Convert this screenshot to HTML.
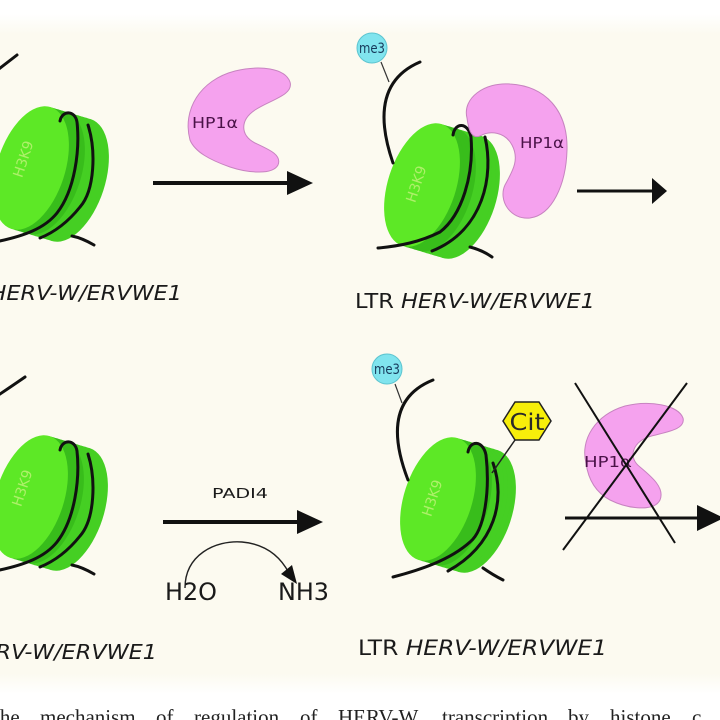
<!DOCTYPE html>
<html>
<head>
<meta charset="utf-8">
<style>
  html, body { margin:0; padding:0; background:#ffffff; }
  body { width:720px; height:720px; overflow:hidden; }
  svg { display:block; }
  .lbl { font-family: "DejaVu Sans", "Liberation Sans", sans-serif; fill:#1a1a1a; }
  .it { font-style: italic; }
  .dna { fill:none; stroke:#111; stroke-width:3; stroke-linecap:round; }
  .hp { fill:#f5a2ee; stroke:#c783c0; stroke-width:1; }
  .hpt { font-family: "DejaVu Sans", "Liberation Sans", sans-serif; font-size:15px; fill:#4a1248; }
  .k9 { font-family: "DejaVu Sans", "Liberation Sans", sans-serif; font-size:14px; fill:#aef06a; }
  .me { fill:#80e4ee; stroke:#5cc4cf; stroke-width:1; }
  .met { font-family: "DejaVu Sans", "Liberation Sans", sans-serif; font-size:14px; fill:#16385a; }
  .cap { font-family: "Liberation Serif", serif; font-size:21px; fill:#222; }
  .bk { fill:#45cf23; }
  .sd { fill:#38bd1b; }
  .fr { fill:#5de826; }
</style>
</head>
<body>
<svg width="720" height="720" viewBox="0 0 720 720" xmlns="http://www.w3.org/2000/svg">
  <defs>
    <linearGradient id="bg" x1="0" y1="0" x2="0" y2="1">
      <stop offset="0" stop-color="#ffffff"/>
      <stop offset="0.03" stop-color="#fcfaf0"/>
      <stop offset="0.97" stop-color="#fcfaf0"/>
      <stop offset="1" stop-color="#ffffff"/>
    </linearGradient>
  </defs>
  <rect x="0" y="0" width="720" height="720" fill="#ffffff"/>
  <rect x="0" y="14" width="720" height="680" fill="url(#bg)"/>

  <!-- ============ Nucleosome TL ============ -->
  <g transform="translate(31,168)">
    <ellipse class="bk" cx="40" cy="12" rx="34" ry="64" transform="rotate(18 40 12)"/>
    <ellipse class="bk" cx="36" cy="10.8" rx="34" ry="64" transform="rotate(18 36 10.8)"/>
    <ellipse class="bk" cx="32" cy="9.6" rx="34" ry="64" transform="rotate(18 32 9.6)"/>
    <ellipse class="bk" cx="28" cy="8.4" rx="34" ry="64" transform="rotate(18 28 8.4)"/>
    <ellipse class="bk" cx="24" cy="7.2" rx="34" ry="64" transform="rotate(18 24 7.2)"/>
    <ellipse class="bk" cx="20" cy="6" rx="34" ry="64" transform="rotate(18 20 6)"/>
    <ellipse class="sd" cx="16" cy="4.8" rx="34" ry="64" transform="rotate(18 16 4.8)"/>
    <ellipse class="sd" cx="12" cy="3.6" rx="34" ry="64" transform="rotate(18 12 3.6)"/>
    <ellipse class="sd" cx="8" cy="2.4" rx="34" ry="64" transform="rotate(18 8 2.4)"/>
    <ellipse class="sd" cx="4" cy="1.2" rx="34" ry="64" transform="rotate(18 4 1.2)"/>
    <ellipse class="fr" cx="0" cy="0" rx="34" ry="64" transform="rotate(18)"/>
    <text class="k9" x="-8" y="-4" text-anchor="middle" transform="rotate(-72 -8 -9)">H3K9</text>
  </g>
  <path class="dna" d="M 17 55 Q 8 62 -5 72"/>
  <path class="dna" d="M 60 121 C 62 110 75 110 77 122 C 80 150 75 190 57 213 C 45 228 25 236 -5 242"/>
  <path class="dna" d="M 88 125 C 96 150 95 190 80 207 C 68 222 55 232 40 238"/>
  <path class="dna" d="M 72 236 Q 82 238 94 245"/>

  <!-- ============ Nucleosome BL ============ -->
  <g transform="translate(30,497)">
    <ellipse class="bk" cx="40" cy="12" rx="34" ry="64" transform="rotate(18 40 12)"/>
    <ellipse class="bk" cx="36" cy="10.8" rx="34" ry="64" transform="rotate(18 36 10.8)"/>
    <ellipse class="bk" cx="32" cy="9.6" rx="34" ry="64" transform="rotate(18 32 9.6)"/>
    <ellipse class="bk" cx="28" cy="8.4" rx="34" ry="64" transform="rotate(18 28 8.4)"/>
    <ellipse class="bk" cx="24" cy="7.2" rx="34" ry="64" transform="rotate(18 24 7.2)"/>
    <ellipse class="bk" cx="20" cy="6" rx="34" ry="64" transform="rotate(18 20 6)"/>
    <ellipse class="sd" cx="16" cy="4.8" rx="34" ry="64" transform="rotate(18 16 4.8)"/>
    <ellipse class="sd" cx="12" cy="3.6" rx="34" ry="64" transform="rotate(18 12 3.6)"/>
    <ellipse class="sd" cx="8" cy="2.4" rx="34" ry="64" transform="rotate(18 8 2.4)"/>
    <ellipse class="sd" cx="4" cy="1.2" rx="34" ry="64" transform="rotate(18 4 1.2)"/>
    <ellipse class="fr" cx="0" cy="0" rx="34" ry="64" transform="rotate(18)"/>
    <text class="k9" x="-8" y="-4" text-anchor="middle" transform="rotate(-72 -8 -9)">H3K9</text>
  </g>
  <path class="dna" d="M 25 377 Q 12 386 -3 396"/>
  <path class="dna" d="M 60 450 C 62 439 75 439 77 451 C 80 479 75 519 57 542 C 45 557 25 565 -5 571"/>
  <path class="dna" d="M 88 454 C 96 479 95 519 80 536 C 68 551 55 561 40 567"/>
  <path class="dna" d="M 72 565 Q 82 567 94 574"/>

  <!-- ============ Nucleosome TM ============ -->
  <g transform="translate(422,185)">
    <ellipse class="bk" cx="40" cy="12" rx="34" ry="64" transform="rotate(18 40 12)"/>
    <ellipse class="bk" cx="36" cy="10.8" rx="34" ry="64" transform="rotate(18 36 10.8)"/>
    <ellipse class="bk" cx="32" cy="9.6" rx="34" ry="64" transform="rotate(18 32 9.6)"/>
    <ellipse class="bk" cx="28" cy="8.4" rx="34" ry="64" transform="rotate(18 28 8.4)"/>
    <ellipse class="bk" cx="24" cy="7.2" rx="34" ry="64" transform="rotate(18 24 7.2)"/>
    <ellipse class="bk" cx="20" cy="6" rx="34" ry="64" transform="rotate(18 20 6)"/>
    <ellipse class="sd" cx="16" cy="4.8" rx="34" ry="64" transform="rotate(18 16 4.8)"/>
    <ellipse class="sd" cx="12" cy="3.6" rx="34" ry="64" transform="rotate(18 12 3.6)"/>
    <ellipse class="sd" cx="8" cy="2.4" rx="34" ry="64" transform="rotate(18 8 2.4)"/>
    <ellipse class="sd" cx="4" cy="1.2" rx="34" ry="64" transform="rotate(18 4 1.2)"/>
    <ellipse class="fr" cx="0" cy="0" rx="34" ry="64" transform="rotate(18)"/>
    <text class="k9" x="-6" y="4" text-anchor="middle" transform="rotate(-72 -6 -1)">H3K9</text>
  </g>
  <path class="dna" d="M 420 62 Q 366 85 393 163"/>
  <line x1="381" y1="62" x2="389" y2="82" stroke="#333" stroke-width="1.2"/>
  <path class="dna" d="M 453 135 C 455 122 468 122 471 137 C 474 175 462 215 440 232 C 420 242 400 246 378 248"/>
  <path class="dna" d="M 485 137 C 494 175 484 230 432 251"/>
  <path class="dna" d="M 470 247 Q 482 250 492 257"/>
  <circle class="me" cx="372" cy="48" r="15"/>
  <text class="met" x="372" y="53" text-anchor="middle" textLength="26" lengthAdjust="spacingAndGlyphs">me3</text>

  <!-- ============ Nucleosome BM ============ -->
  <g transform="translate(438,499)">
    <ellipse class="bk" cx="40" cy="12" rx="34" ry="64" transform="rotate(18 40 12)"/>
    <ellipse class="bk" cx="36" cy="10.8" rx="34" ry="64" transform="rotate(18 36 10.8)"/>
    <ellipse class="bk" cx="32" cy="9.6" rx="34" ry="64" transform="rotate(18 32 9.6)"/>
    <ellipse class="bk" cx="28" cy="8.4" rx="34" ry="64" transform="rotate(18 28 8.4)"/>
    <ellipse class="bk" cx="24" cy="7.2" rx="34" ry="64" transform="rotate(18 24 7.2)"/>
    <ellipse class="bk" cx="20" cy="6" rx="34" ry="64" transform="rotate(18 20 6)"/>
    <ellipse class="sd" cx="16" cy="4.8" rx="34" ry="64" transform="rotate(18 16 4.8)"/>
    <ellipse class="sd" cx="12" cy="3.6" rx="34" ry="64" transform="rotate(18 12 3.6)"/>
    <ellipse class="sd" cx="8" cy="2.4" rx="34" ry="64" transform="rotate(18 8 2.4)"/>
    <ellipse class="sd" cx="4" cy="1.2" rx="34" ry="64" transform="rotate(18 4 1.2)"/>
    <ellipse class="fr" cx="0" cy="0" rx="34" ry="64" transform="rotate(18)"/>
    <text class="k9" x="-6" y="4" text-anchor="middle" transform="rotate(-72 -6 -1)">H3K9</text>
  </g>
  <path class="dna" d="M 433 380 Q 378 402 408 480"/>
  <line x1="395" y1="384" x2="402" y2="403" stroke="#333" stroke-width="1.2"/>
  <path class="dna" d="M 468 452 C 470 440 483 440 486 455 C 490 490 485 530 470 542 C 450 560 420 570 393 577"/>
  <path class="dna" d="M 493 463 C 506 500 495 545 448 571"/>
  <path class="dna" d="M 483 568 Q 493 575 503 580"/>
  <circle class="me" cx="387" cy="369" r="15"/>
  <text class="met" x="387" y="374" text-anchor="middle" textLength="26" lengthAdjust="spacingAndGlyphs">me3</text>
  <!-- Cit -->
  <line x1="515" y1="440" x2="492" y2="473" stroke="#222" stroke-width="1.5"/>
  <polygon points="503,421 515,402 539,402 551,421 539,440 515,440" fill="#f7ee0a" stroke="#222" stroke-width="1.5"/>
  <text x="527" y="430" text-anchor="middle" font-family="DejaVu Sans, Liberation Sans, sans-serif" font-size="23" fill="#2a2a2a" textLength="35" lengthAdjust="spacingAndGlyphs">Cit</text>

  <!-- ============ HP1 shapes ============ -->
  <path class="hp" d="M 190 140 C 182 110 200 80 235 71 C 260 65 285 68 290 82 C 294 95 270 100 255 110 C 240 120 240 135 255 143 C 270 150 282 155 278 165 C 272 176 245 172 230 167 C 210 160 195 152 190 140 Z"/>
  <text class="hpt" x="192" y="128" textLength="46" lengthAdjust="spacingAndGlyphs">HP1α</text>

  <path class="hp" d="M 467 118 C 462 98 485 82 510 84 C 545 86 568 110 567 150 C 566 185 552 215 530 218 C 510 220 498 200 505 185 C 512 172 520 160 512 145 C 505 132 490 130 480 136 C 470 140 468 125 467 118 Z"/>
  <text class="hpt" x="520" y="148" textLength="44" lengthAdjust="spacingAndGlyphs">HP1α</text>

  <path class="hp" d="M 586 463 C 580 440 595 415 625 406 C 650 400 678 405 683 418 C 686 430 665 432 648 437 C 632 443 628 458 640 467 C 652 477 665 488 660 500 C 654 512 628 509 610 500 C 595 492 588 478 586 463 Z"/>
  <text class="hpt" x="584" y="467" textLength="48" lengthAdjust="spacingAndGlyphs">HP1α</text>

  <!-- ============ Arrows ============ -->
  <line x1="153" y1="183" x2="290" y2="183" stroke="#111" stroke-width="4"/>
  <polygon points="287,171 313,183 287,195" fill="#111"/>

  <line x1="577" y1="191" x2="655" y2="191" stroke="#111" stroke-width="3"/>
  <polygon points="652,178 667,191 652,204" fill="#111"/>

  <line x1="163" y1="522" x2="300" y2="522" stroke="#111" stroke-width="4"/>
  <polygon points="297,510 323,522 297,534" fill="#111"/>

  <line x1="565" y1="518" x2="700" y2="518" stroke="#111" stroke-width="3"/>
  <polygon points="697,505 724,518 697,531" fill="#111"/>

  <!-- X over HP1 -->
  <line x1="575" y1="383" x2="675" y2="543" stroke="#111" stroke-width="2"/>
  <line x1="687" y1="383" x2="563" y2="550" stroke="#111" stroke-width="2"/>

  <!-- curved arrow H2O -> NH3 -->
  <path d="M 185 588 C 185 555 215 540 242 542 C 265 544 280 556 289 573" fill="none" stroke="#222" stroke-width="1.4"/>
  <polygon points="281,574 292,565 297,584" fill="#111"/>

  <!-- ============ Texts ============ -->
  <text class="lbl" x="212" y="498" font-size="13.5" textLength="56" lengthAdjust="spacingAndGlyphs">PADI4</text>
  <text class="lbl" x="165" y="600" font-size="24" textLength="52" lengthAdjust="spacingAndGlyphs">H2O</text>
  <text class="lbl" x="278" y="600" font-size="24" textLength="51" lengthAdjust="spacingAndGlyphs">NH3</text>

  <text class="lbl" x="-56" y="300" font-size="20" textLength="238" lengthAdjust="spacingAndGlyphs">LTR <tspan class="it">HERV-W/ERVWE1</tspan></text>
  <text class="lbl" x="355" y="308" font-size="20" textLength="240" lengthAdjust="spacingAndGlyphs">LTR <tspan class="it">HERV-W/ERVWE1</tspan></text>
  <text class="lbl" x="-81" y="659" font-size="20" textLength="238" lengthAdjust="spacingAndGlyphs">LTR <tspan class="it">HERV-W/ERVWE1</tspan></text>
  <text class="lbl" x="358" y="655" font-size="21" textLength="249" lengthAdjust="spacingAndGlyphs">LTR <tspan class="it">HERV-W/ERVWE1</tspan></text>

  <!-- caption -->
  <text class="cap" x="-13" y="724">The</text>
  <text class="cap" x="40" y="724">mechanism</text>
  <text class="cap" x="156" y="724">of</text>
  <text class="cap" x="194" y="724">regulation</text>
  <text class="cap" x="300" y="724">of</text>
  <text class="cap" x="338" y="724">HERV-W</text>
  <text class="cap" x="442" y="724">transcription</text>
  <text class="cap" x="568" y="724">by</text>
  <text class="cap" x="610" y="724">histone</text>
  <text class="cap" x="692" y="724">c</text>
</svg>
</body>
</html>
